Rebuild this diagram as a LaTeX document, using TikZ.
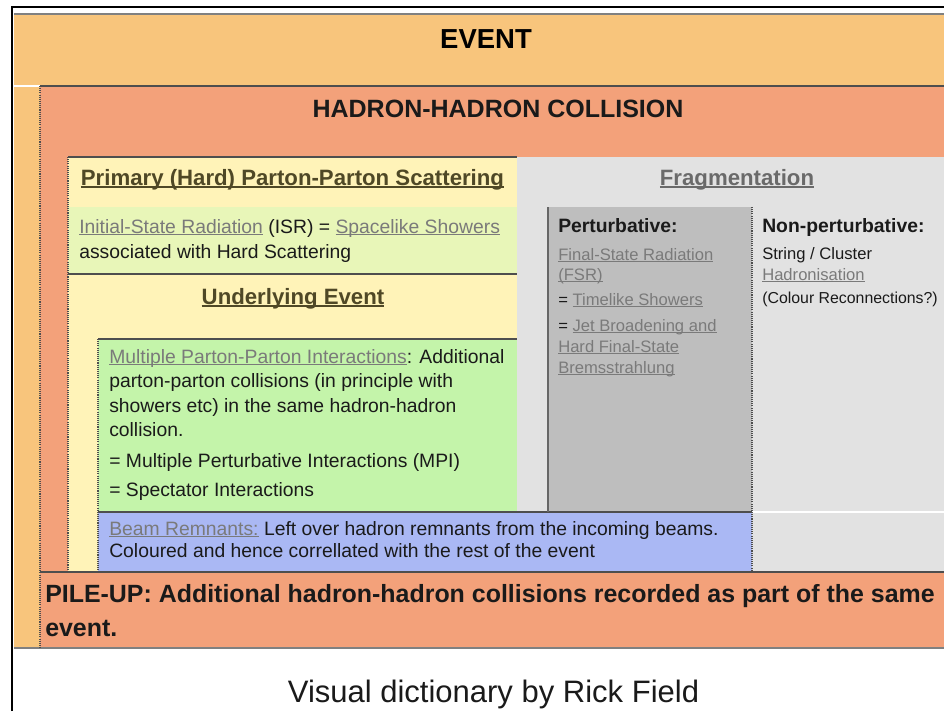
\documentclass[tikz,border=0pt]{standalone}
\usepackage{fontspec}
\setmainfont{Liberation Sans}
\definecolor{cEvent}{HTML}{F8C57C}
\definecolor{cHadron}{HTML}{F3A17A}
\definecolor{cPrimary}{HTML}{FFF3B8}
\definecolor{cISR}{HTML}{E8F6B8}
\definecolor{cMPI}{HTML}{C4F4AA}
\definecolor{cBeam}{HTML}{AAB8F4}
\definecolor{cFrag}{HTML}{E2E2E2}
\definecolor{cPert}{HTML}{BEBEBE}
\definecolor{cLine}{HTML}{4E4E4E}
\definecolor{cLink}{HTML}{7A7A7A}
\definecolor{cTitle}{HTML}{4F4826}
\definecolor{cFragT}{HTML}{6A6A6A}
\definecolor{cText}{HTML}{1A1A1A}
\newcommand\fsz[1]{\fontsize{#1}{#1}\selectfont}
\newcommand\ulk[1]{\setbox0\hbox{#1}\rlap{\rule[-0.12em]{\wd0}{0.065em}}\box0}
\newcommand\lnk[1]{\textcolor{cLink}{\ulk{#1}}}
\tikzset{
  txt/.style={anchor=base west, inner sep=0pt, text=cText, font=\fsz{14.5}},
  sml/.style={anchor=base west, inner sep=0pt, text=cText, font=\fsz{12.45}},
  ttl/.style={anchor=base, inner sep=0pt, text=cTitle, font=\bfseries\fsz{16.65}},
  sepline/.style={draw=cLine, line width=1.1pt},
  dotline/.style={draw=cLine, line width=0.8pt, dash pattern=on 0.8pt off 0.8pt},
}
\begin{document}
\begin{tikzpicture}[x=0.75pt, y=-0.75pt]
\useasboundingbox (0,0) rectangle (944,711);
\clip (0,0) rectangle (944,711);
% background fills
\fill[white] (0,0) rectangle (944,711);
\fill[cEvent] (14,14) rectangle (944,648);
\fill[cHadron] (40,86) rectangle (944,648);
\fill[cPrimary] (68,157) rectangle (517,572);
\fill[cISR] (68,207) rectangle (517,274);
\fill[cFrag] (517,157) rectangle (944,572);
\fill[cPert] (548,207) rectangle (752,512);
\fill[cMPI] (98,339) rectangle (517,512);
\fill[cBeam] (98,512) rectangle (752,572);
% separator lines
\draw[sepline, draw=gray] (14,14) -- (944,14);
\draw[sepline] (40,86) -- (944,86);
\draw[white, line width=1pt] (14,86) -- (40,86);
\draw[sepline] (68,157) -- (517,157);
\draw[sepline] (68,274) -- (517,274);
\draw[sepline] (98,339) -- (517,339);
\draw[sepline] (98,512) -- (752,512);
\draw[white, line width=0.8pt] (752,512) -- (944,512);
\draw[sepline, draw=gray!80!black] (548,207) -- (548,512);
\draw[sepline] (40,572) -- (944,572);
\draw[sepline, draw=gray] (14,648) -- (944,648);
% dotted borders
\draw[dotline] (40,86) -- (40,648);
\draw[dotline] (68,157) -- (68,572);
\draw[dotline] (98,339) -- (98,572);
\draw[dotline] (752,207) -- (752,572);
% outer frame
\draw[black, line width=1.2pt] (12,711) -- (12,7) -- (944,7);
% titles
\node[ttl, text=black, font=\bfseries\fsz{20.6}] (event) at (486,48) {EVENT};
\node[ttl, text=cText, font=\bfseries\fsz{18.75}] (hh) at (498,117) {HADRON-HADRON COLLISION};
\node[ttl] (primary) at (292.5,185) {\ulk{Primary (Hard) Parton-Parton Scattering}};
\node[ttl, text=cFragT] (frag) at (737,185) {\ulk{Fragmentation}};
% ISR
\node[txt] (isr1) at (79,233) {\lnk{Initial-State Radiation} (ISR) = \lnk{Spacelike Showers}};
\node[txt] (isr2) at (79,258) {associated with Hard Scattering};
% Underlying event
\node[ttl] (ue) at (293,304) {\ulk{Underlying Event}};
\node[txt] (mpi1) at (109,363) {\lnk{Multiple Parton-Parton Interactions}: Additional};
\node[txt] (mpi2) at (109,387) {parton-parton collisions (in principle with};
\node[txt] (mpi3) at (109,412) {showers etc) in the same hadron-hadron};
\node[txt] (mpi4) at (109,436) {collision.};
\node[txt] (mpi5) at (109,467) {= Multiple Perturbative Interactions (MPI)};
\node[txt] (mpi6) at (109,496) {= Spectator Interactions};
% Beam remnants
\node[txt] (br1) at (109,535) {\lnk{Beam Remnants:} Left over hadron remnants from the incoming beams.};
\node[txt] (br2) at (109,557) {Coloured and hence correllated with the rest of the event};
% Perturbative
\node[txt, font=\bfseries\fsz{14.5}] (pert) at (558,232) {Perturbative:};
\node[sml] (p1) at (558,260) {\lnk{Final-State Radiation}};
\node[sml] (p2) at (558,280) {\lnk{(FSR)}};
\node[sml] (p3) at (558,305) {= \lnk{Timelike Showers}};
\node[sml] (p4) at (558,331) {= \lnk{Jet Broadening and}};
\node[sml] (p5) at (558,352) {\lnk{Hard Final-State}};
\node[sml] (p6) at (558,373) {\lnk{Bremsstrahlung}};
% Non-perturbative
\node[txt, font=\bfseries\fsz{14.5}] (npert) at (762,232) {Non-perturbative:};
\node[sml] (n1) at (762,259) {String / Cluster};
\node[sml] (n2) at (762,280) {\lnk{Hadronisation}};
\node[sml, font=\fsz{11.9}] (n3) at (762,303) {(Colour Reconnections?)};
% Pile-up
\node[txt, font=\bfseries\fsz{18.7}] (pu1) at (45,602) {PILE-UP: Additional hadron-hadron collisions recorded as part of the same};
\node[txt, font=\bfseries\fsz{18.7}] (pu2) at (45,636) {event.};
% credit
\node[anchor=base, inner sep=0pt, text=cText, font=\fsz{23.25}] (credit) at (493.5,702) {Visual dictionary by Rick Field};
\end{tikzpicture}
\end{document}
